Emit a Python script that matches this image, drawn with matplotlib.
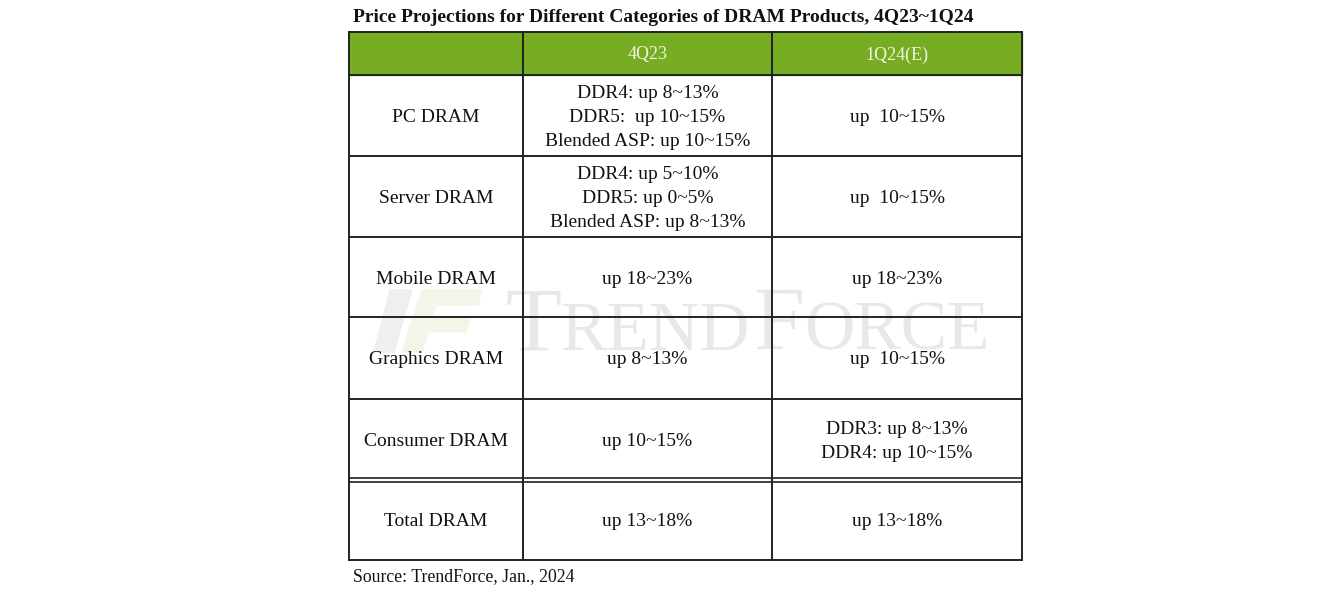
import matplotlib
matplotlib.use("Agg")
import matplotlib.pyplot as plt
from matplotlib.patches import Rectangle, Polygon

# table content
title = "Price Projections for Different Categories of DRAM Products, 4Q23~1Q24"
source = "Source: TrendForce, Jan., 2024"
columns = ["", "4Q23", "1Q24(E)"]
categories = ["PC DRAM", "Server DRAM", "Mobile DRAM", "Graphics DRAM",
              "Consumer DRAM", "Total DRAM"]
q4_23 = ["DDR4: up 8~13%\nDDR5:  up 10~15%\nBlended ASP: up 10~15%",
         "DDR4: up 5~10%\nDDR5: up 0~5%\nBlended ASP: up 8~13%",
         "up 18~23%",
         "up 8~13%",
         "up 10~15%",
         "up 13~18%"]
q1_24 = ["up  10~15%",
         "up  10~15%",
         "up 18~23%",
         "up  10~15%",
         "DDR3: up 8~13%\nDDR4: up 10~15%",
         "up 13~18%"]

W, H = 1342, 604
GREEN = "#76ad23"
LINE = "#222222"
SERIF = ["Liberation Serif", "DejaVu Serif"]

# layout in pixels
col_x = [349, 523, 772, 1022]
head_top, head_bot = 32, 75
row_y = [75, 156, 237, 317, 399, 480, 560]

fig = plt.figure(figsize=(W / 100, H / 100), dpi=100)
ax = fig.add_axes([0, 0, 1, 1])
ax.set_xlim(0, W)
ax.set_ylim(H, 0)
ax.axis("off")

# watermark logo
ax.add_patch(Polygon([(390, 290), (412, 290), (394, 352), (374, 352)],
                     closed=True, color="#efefef", zorder=0))
ax.add_patch(Polygon([(422, 290), (482, 290), (478, 305), (436, 305),
                      (432, 318), (470, 318), (466, 332), (428, 332),
                      (422, 352), (402, 352)],
                     closed=True, color="#f1f6e8", zorder=0))

# watermark word, small caps built from pieces
fig.canvas.draw()
renderer = fig.canvas.get_renderer()
inv = ax.transData.inverted()
x = 505
for s, size in [("T", 66), ("REND", 50), ("F", 66), ("ORCE", 50)]:
    t = ax.text(x, 350, s, fontsize=size, family=SERIF, color="#e8e8e8",
                ha="left", va="baseline", zorder=0)
    bb = t.get_window_extent(renderer)
    x = inv.transform((bb.x1, bb.y0))[0] + (3 if s == "REND" else 0)

# header
ax.add_patch(Rectangle((col_x[0], head_top), col_x[-1] - col_x[0],
                       head_bot - head_top, color=GREEN, zorder=1))
for i, name in enumerate(columns):
    cx = (col_x[i] + col_x[i + 1]) / 2
    ax.text(cx, 55, name, fontsize=13, family=SERIF,
            color="#eef5e0", ha="center", va="center", zorder=3)

# cell texts
for r, cat in enumerate(categories):
    cy = (row_y[r] + row_y[r + 1]) / 2 + 2
    for c, val in enumerate([cat, q4_23[r], q1_24[r]]):
        cx = (col_x[c] + col_x[c + 1]) / 2
        ax.text(cx, cy, val, fontsize=14, family=SERIF, color="#111111",
                ha="center", va="center", linespacing=1.56, zorder=3)

# grid lines
lw = 1.4
ax.plot([col_x[0], col_x[-1]], [head_top, head_top], color=LINE, lw=lw, zorder=4)
for y in row_y[:-2]:
    ax.plot([col_x[0], col_x[-1]], [y, y], color=LINE, lw=lw, zorder=4)
ax.plot([col_x[0], col_x[-1]], [row_y[-2] - 2, row_y[-2] - 2], color=LINE, lw=1.2, zorder=4)
ax.plot([col_x[0], col_x[-1]], [row_y[-2] + 2, row_y[-2] + 2], color=LINE, lw=1.2, zorder=4)
ax.plot([col_x[0], col_x[-1]], [row_y[-1], row_y[-1]], color=LINE, lw=lw, zorder=4)
for xv in col_x:
    ax.plot([xv, xv], [head_top, row_y[-1]], color=LINE, lw=lw, zorder=4)

# title and source
ax.text(353, 17, title, fontsize=14, family=SERIF, weight="bold",
        color="#111111", ha="left", va="center")
ax.text(353, 577, source, fontsize=12.8, family=SERIF, color="#111111",
        ha="left", va="center")

fig.savefig("out.png", dpi=100)
